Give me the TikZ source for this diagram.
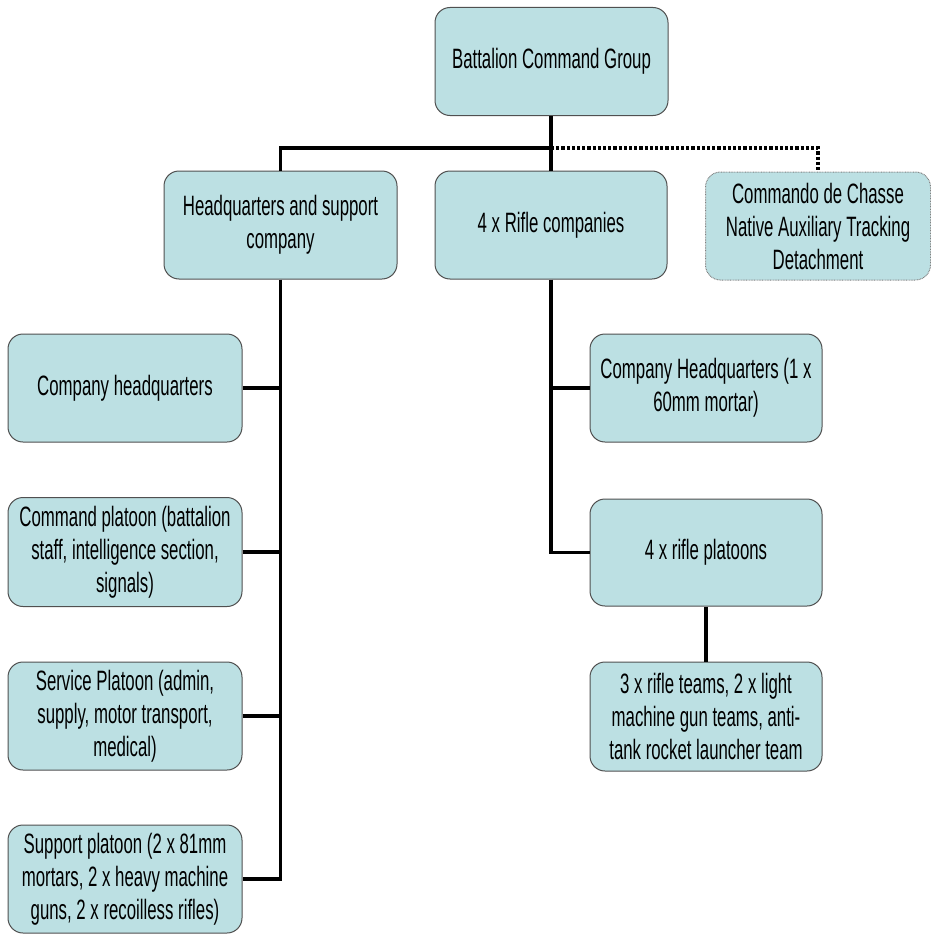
\documentclass[tikz,border=0pt]{standalone}
\usepackage{fontspec}
\setmainfont{Liberation Sans}[FakeStretch=0.6]
\definecolor{boxfill}{RGB}{188,224,227}
\definecolor{boxline}{RGB}{80,80,80}
\tikzset{
  orgbox/.style={draw=boxline, line width=1pt, fill=boxfill, rounded corners=15pt,
    inner sep=0pt, align=center, minimum width=233pt, minimum height=108pt,
    font=\fontsize{28}{33}\selectfont},
  dotbox/.style={orgbox, draw=gray, dash pattern=on 0.8pt off 0.8pt},
  link/.style={line width=3.2pt, black},
  dotlink/.style={line width=3.4pt, black, dash pattern=on 3.2pt off 2pt}
}
\begin{document}
\begin{tikzpicture}[x=1pt,y=-1pt]
\useasboundingbox (0,0) rectangle (931,934);
\node[orgbox] (bcg) at (551.5,61.5) {Battalion Command Group};
\node[orgbox] (hq) at (280.5,225) {Headquarters and support\\company};
\node[orgbox, minimum width=232pt] (rifle) at (551,225) {4 x Rifle companies};
\node[dotbox, minimum width=225pt] (cdc) at (818,226) {Commando de Chasse\\Native Auxiliary Tracking\\Detachment};
\node[orgbox, minimum width=234pt] (chq) at (125,388) {Company headquarters};
\node[orgbox, minimum width=234pt, minimum height=109pt] (cpl) at (125,552) {Command platoon (battalion\\staff, intelligence section,\\signals)};
\node[orgbox, minimum width=234pt] (spl) at (125,716) {Service Platoon (admin,\\supply, motor transport,\\medical)};
\node[orgbox, minimum width=234pt] (sup) at (125,879) {Support platoon (2 x 81mm\\mortars, 2 x heavy machine\\guns, 2 x recoilless rifles)};
\node[orgbox, minimum width=232pt] (rhq) at (706,388) {Company Headquarters (1 x\\60mm mortar)};
\node[orgbox, minimum width=232pt, minimum height=107pt] (rpl) at (706,552.5) {4 x rifle platoons};
\node[orgbox, minimum width=232pt, minimum height=109pt] (rtm) at (706,716.5) {3 x rifle teams, 2 x light\\machine gun teams, anti-\\tank rocket launcher team};
\coordinate (bar) at (0,148);
% top level
\draw[link] (bcg.south -| rifle.north) -- (rifle.north);
\draw[link] (hq.north) -- (hq.north |- bar) -- (rifle.north |- bar);
\draw[dotlink] (rifle.north |- bar) -| (cdc.north);
% HQ branch
\draw[link] (hq.south) |- (sup.east);
\draw[link] (chq.east) -- (chq.east -| hq.south);
\draw[link] (cpl.east) -- (cpl.east -| hq.south);
\draw[link] (spl.east) -- (spl.east -| hq.south);
% Rifle branch
\draw[link] (rifle.south) |- (rpl.west);
\draw[link] (rhq.west -| rifle.south) -- (rhq.west);
\draw[link] (rpl.south) -- (rtm.north);
\end{tikzpicture}
\end{document}
